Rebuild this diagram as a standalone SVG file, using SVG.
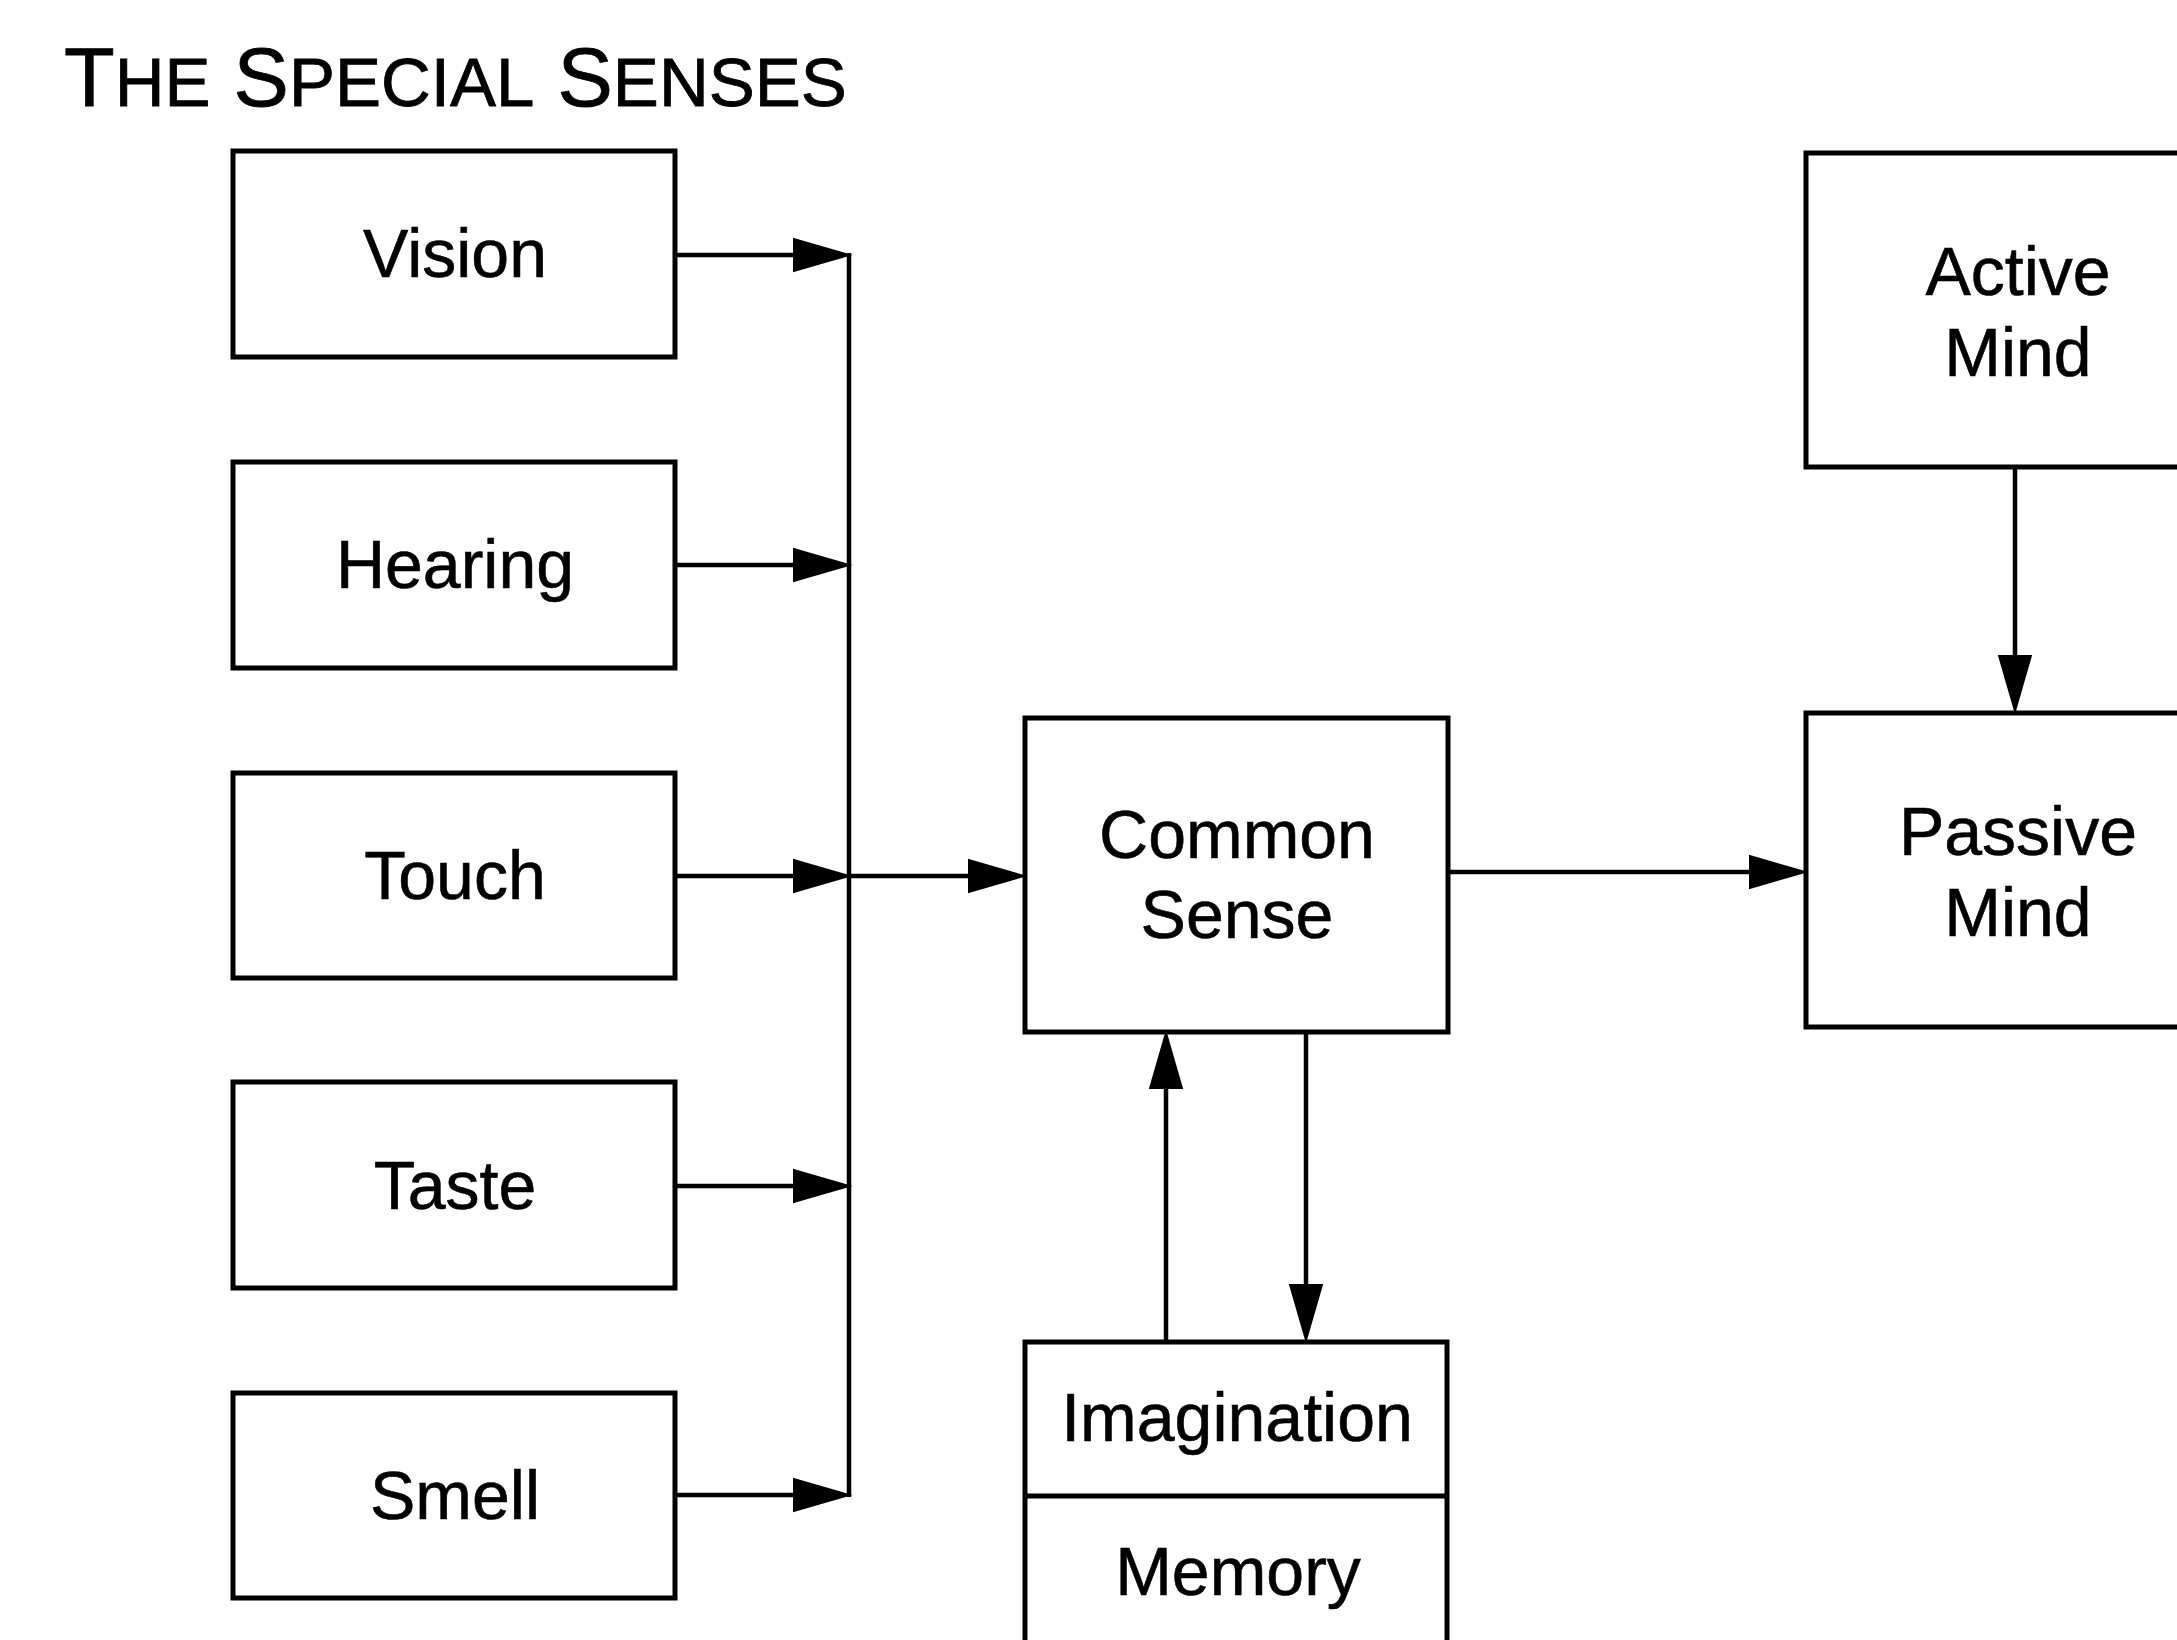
<svg xmlns="http://www.w3.org/2000/svg" width="2177" height="1640" viewBox="0 0 2177 1640">
<style>
  .box { fill: #fff; stroke: #000; stroke-width: 5; }
  .lbl { font-family: "Liberation Sans", Arial, sans-serif; font-size: 68px; fill: #000; text-anchor: middle; stroke: #000; stroke-width: 0.6; }
  .title { font-family: "Liberation Sans", Arial, sans-serif; font-size: 83px; fill: #000; stroke: #000; stroke-width: 0.8; }
  .sc { font-size: 69px; }
  .conn { fill: none; stroke: #000; stroke-width: 4.5; }
</style>
<defs>
  <marker id="arr" markerUnits="userSpaceOnUse" markerWidth="60" markerHeight="40" viewBox="0 0 52 32" refX="22" refY="16" orient="auto">
    <path d="M0,1 L52,16 L0,31 z" fill="#000"/>
  </marker>
</defs>
<rect width="2177" height="1640" fill="#fff"/>
<text class="title" x="64" y="106">T<tspan class="sc">HE</tspan> S<tspan class="sc">PECIAL</tspan> S<tspan class="sc">ENSES</tspan></text>

<g id="connectors">
  <line class="conn" x1="849" y1="253" x2="849" y2="1497"/>
  <line class="conn" x1="675" y1="255" x2="818" y2="255" marker-end="url(#arr)"/>
  <line class="conn" x1="675" y1="565" x2="818" y2="565" marker-end="url(#arr)"/>
  <line class="conn" x1="675" y1="876" x2="818" y2="876" marker-end="url(#arr)"/>
  <line class="conn" x1="675" y1="1186" x2="818" y2="1186" marker-end="url(#arr)"/>
  <line class="conn" x1="675" y1="1495" x2="818" y2="1495" marker-end="url(#arr)"/>
  <line class="conn" x1="849" y1="876" x2="993" y2="876" marker-end="url(#arr)"/>
  <line class="conn" x1="1448" y1="872" x2="1774" y2="872" marker-end="url(#arr)"/>
  <line class="conn" x1="2015" y1="467" x2="2015" y2="680" marker-end="url(#arr)"/>
  <line class="conn" x1="1166" y1="1342" x2="1166" y2="1064" marker-end="url(#arr)"/>
  <line class="conn" x1="1306" y1="1031" x2="1306" y2="1309" marker-end="url(#arr)"/>
</g>

<g id="vision">
  <rect class="box" x="233" y="151" width="442" height="206"/>
  <text class="lbl" x="455" y="277">Vision</text>
</g>
<g id="hearing">
  <rect class="box" x="233" y="462" width="442" height="206"/>
  <text class="lbl" x="455" y="588">Hearing</text>
</g>
<g id="touch">
  <rect class="box" x="233" y="773" width="442" height="205"/>
  <text class="lbl" x="455" y="899">Touch</text>
</g>
<g id="taste">
  <rect class="box" x="233" y="1082" width="442" height="206"/>
  <text class="lbl" x="455" y="1209">Taste</text>
</g>
<g id="smell">
  <rect class="box" x="233" y="1393" width="442" height="205"/>
  <text class="lbl" x="455" y="1519">Smell</text>
</g>
<g id="common-sense">
  <rect class="box" x="1025" y="718" width="423" height="314"/>
  <text class="lbl" x="1237" y="858">Common</text>
  <text class="lbl" x="1237" y="938">Sense</text>
</g>
<g id="imagination-memory">
  <rect class="box" x="1025" y="1342" width="422" height="320"/>
  <line x1="1025" y1="1496" x2="1447" y2="1496" stroke="#000" stroke-width="5"/>
  <text class="lbl" x="1237" y="1441">Imagination</text>
  <text class="lbl" x="1238" y="1595">Memory</text>
</g>
<g id="active-mind">
  <rect class="box" x="1806" y="153" width="430" height="314"/>
  <text class="lbl" x="2018" y="295">Active</text>
  <text class="lbl" x="2018" y="376">Mind</text>
</g>
<g id="passive-mind">
  <rect class="box" x="1806" y="713" width="430" height="314"/>
  <text class="lbl" x="2018" y="855">Passive</text>
  <text class="lbl" x="2018" y="936">Mind</text>
</g>
</svg>
